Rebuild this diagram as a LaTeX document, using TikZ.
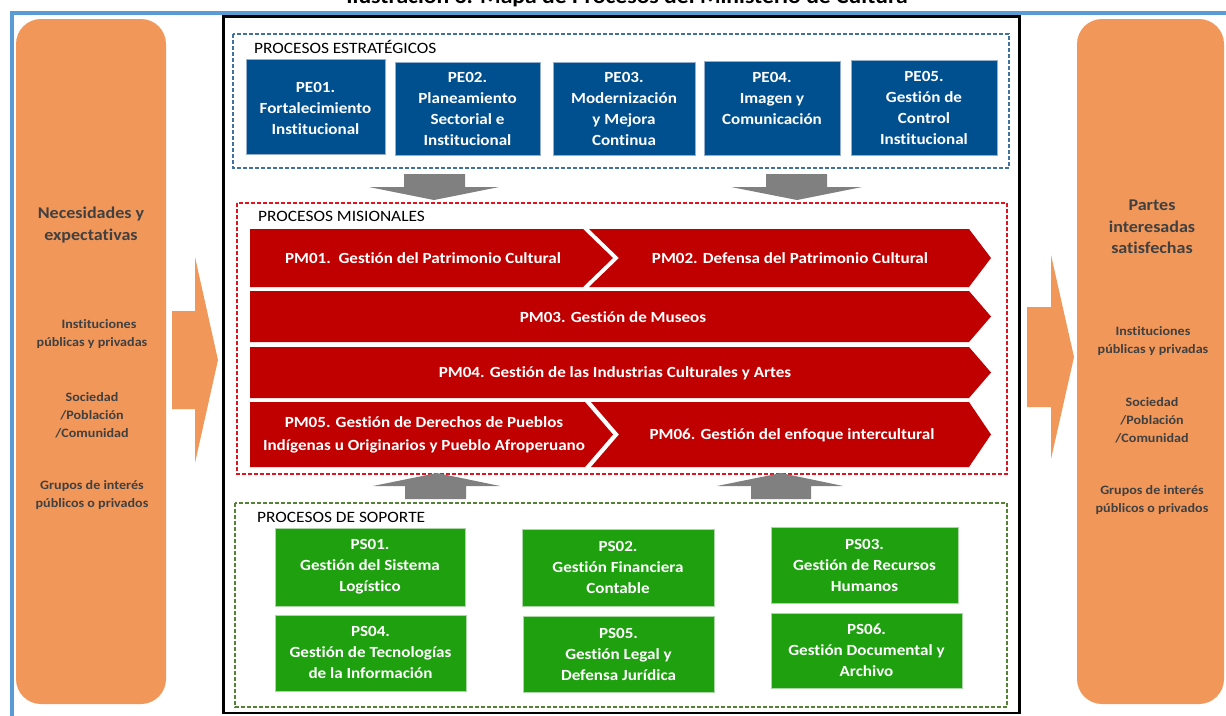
\documentclass[tikz,border=0pt]{standalone}
\usepackage{fontspec}
\setmainfont[FakeStretch=1.1, Ligatures=NoCommon]{Carlito}
\definecolor{frameblue}{RGB}{91,155,213}
\definecolor{orangep}{RGB}{241,151,90}
\definecolor{peblue}{RGB}{0,80,143}
\definecolor{pmred}{RGB}{192,0,0}
\definecolor{psgreen}{RGB}{30,160,15}
\definecolor{arrowgray}{RGB}{128,128,128}
\definecolor{dashblue}{RGB}{65,113,156}
\definecolor{dashred}{RGB}{224,20,30}
\definecolor{dashgreen}{RGB}{84,130,53}
\definecolor{paneltext}{RGB}{64,64,64}
\tikzset{
  boxtext/.style={font=\bfseries\fontsize{15.5}{21}\selectfont, text=white, align=center, inner sep=0pt},
  pmtext/.style={font=\bfseries\fontsize{15.5}{23}\selectfont, text=white, align=center, inner sep=0pt},
  pebox/.style={fill=peblue, draw={rgb,255:red,150;green,175;blue,205}, line width=0.8pt, inner sep=0pt},
  psbox/.style={fill=psgreen, draw={rgb,255:red,170;green,215;blue,165}, line width=0.8pt, inner sep=0pt},
  pmshape/.style={fill=pmred},
  sectlabel/.style={font=\fontsize{15.8}{18}\selectfont, anchor=west, inner sep=0pt},
  paneltxt/.style={text=paneltext, font=\bfseries\fontsize{12.8}{17.8}\selectfont, align=center, inner sep=0pt},
  panelhead/.style={text=paneltext, font=\bfseries\fontsize{16.4}{21.5}\selectfont, align=center, inner sep=0pt},
  dashframe/.style={line width=1.5pt, dash pattern=on 4pt off 2pt},
  grayarrow/.style={fill=arrowgray},
  orangepanel/.style={fill=orangep, rounded corners=25pt},
  orangearrow/.style={fill=orangep}
}
\begin{document}
\begin{tikzpicture}[x=1pt,y=-1pt]
\useasboundingbox (0,0) rectangle (1226,715);
% title (cut off at top, as in the reference)
\node[font=\bfseries\fontsize{21.5}{24}\selectfont, anchor=base, inner sep=0pt] (title) at (627,3) {Ilustración 3. Mapa de Procesos del Ministerio de Cultura};
% outer blue frame
\draw[frameblue, line width=4pt] (11.5,730) -- (11.5,12.5) -- (1240,12.5);
% orange side panels
\fill[orangepanel] (16,19) rectangle (166,704);
\fill[orangepanel] (1077,19) rectangle (1224,704);
% orange block arrows
\fill[orangearrow] (172,311) -- (195,311) -- (195,257) -- (218,360) -- (195,463) -- (195,409) -- (172,409) -- cycle;
\fill[orangearrow] (1027,307) -- (1051,307) -- (1051,255) -- (1074,357) -- (1051,459) -- (1051,407) -- (1027,407) -- cycle;
% panel texts left
\node[panelhead] (needs) at (91,225) {Necesidades y\\expectativas};
\node[paneltxt] (instL) at (92,334) {\hspace*{14pt}Instituciones\\públicas y privadas};
\node[paneltxt] (socL) at (92,415) {Sociedad\\/Población\\/Comunidad};
\node[paneltxt] (grpL) at (92,495) {Grupos de interés\\públicos o privados};
% panel texts right
\node[panelhead] (partes) at (1152,227) {Partes\\interesadas\\satisfechas};
\node[paneltxt] (instR) at (1153,341) {Instituciones\\públicas y privadas};
\node[paneltxt] (socR) at (1152,420) {Sociedad\\/Población\\/Comunidad};
\node[paneltxt] (grpR) at (1152,500) {Grupos de interés\\públicos o privados};
% black central frame
\draw[black, line width=2.5pt] (223.5,16.5) rectangle (1019.5,713);
% dashed section frames
\draw[dashframe, dashblue] (233,34) rectangle (1009,168);
\draw[dashframe, dashred] (237,203) rectangle (1007,474);
\draw[dashframe, dashgreen] (235,503) rectangle (1007,707);
% section labels
\node[sectlabel] (lblE) at (254,47) {PROCESOS ESTRATÉGICOS};
\node[sectlabel] (lblM) at (258,216) {PROCESOS MISIONALES};
\node[sectlabel] (lblS) at (257,517) {PROCESOS DE SOPORTE};
% strategic boxes
\node[pebox, minimum width=139pt, minimum height=95pt] (pe1) at (315.5,106.5) {};
\node[boxtext] (pe1t) at (315.5,108) {PE01.\\Fortalecimiento\\Institucional};
\node[pebox, minimum width=145pt, minimum height=93pt] (pe2) at (467.5,108.5) {};
\node[boxtext] (pe2t) at (467.5,108.5) {PE02.\\Planeamiento\\Sectorial e\\Institucional};
\node[pebox, minimum width=142pt, minimum height=93pt] (pe3) at (624,108.5) {};
\node[boxtext] (pe3t) at (624,108.5) {PE03.\\Modernización\\y Mejora\\Continua};
\node[pebox, minimum width=136pt, minimum height=94pt] (pe4) at (772,108) {};
\node[boxtext] (pe4t) at (772,98) {PE04.\\Imagen y\\Comunicación};
\node[pebox, minimum width=146pt, minimum height=95pt] (pe5) at (924,107.5) {};
\node[boxtext] (pe5t) at (924,108) {PE05.\\Gestión de\\Control\\Institucional};
% down arrows
\fill[grayarrow] (404,174) -- (465,174) -- (465,187) -- (499,187) -- (434,200) -- (369,187) -- (404,187) -- cycle;
\fill[grayarrow] (766,174) -- (827,174) -- (827,187) -- (862,187) -- (797,200) -- (731,187) -- (766,187) -- cycle;
% missional chevrons
\fill[pmshape] (250,229) -- (583,229) -- (613,258) -- (583,287) -- (250,287) -- cycle;
\fill[pmshape] (589,229) -- (969,229) -- (991,258) -- (969,287) -- (589,287) -- (619,258) -- cycle;
\fill[pmshape] (250,291) -- (969,291) -- (991,316.5) -- (969,342) -- (250,342) -- cycle;
\fill[pmshape] (250,347) -- (969,347) -- (991,372.5) -- (969,398) -- (250,398) -- cycle;
\fill[pmshape] (250,402) -- (585,402) -- (613,434.5) -- (585,467) -- (250,467) -- cycle;
\fill[pmshape] (591,402) -- (969,402) -- (991,434.5) -- (969,467) -- (591,467) -- (619,434.5) -- cycle;
\node[pmtext] (pm1t) at (423,258) {PM01.~~Gestión del Patrimonio Cultural};
\node[pmtext] (pm2t) at (790,258) {PM02. Defensa del Patrimonio Cultural};
\node[pmtext] (pm3t) at (613,317) {PM03. Gestión de Museos};
\node[pmtext] (pm4t) at (615,373) {PM04. Gestión de las Industrias Culturales y Artes};
\node[pmtext] (pm5t) at (424,435) {PM05. Gestión de Derechos de Pueblos\\Indígenas u Originarios y Pueblo Afroperuano};
\node[pmtext] (pm6t) at (792,435) {PM06. Gestión del enfoque intercultural};
% up arrows
\fill[grayarrow] (405,499) -- (466,499) -- (466,486) -- (500,486) -- (437,473) -- (373,486) -- (405,486) -- cycle;
\fill[grayarrow] (751,499) -- (811,499) -- (811,486) -- (843,486) -- (781,473) -- (717,486) -- (751,486) -- cycle;
% support boxes
\node[psbox, minimum width=190pt, minimum height=78pt] (ps1) at (370,567) {};
\node[boxtext] (ps1t) at (370,567) {PS01.\\Gestión del Sistema\\Logístico};
\node[psbox, minimum width=192pt, minimum height=77pt] (ps2) at (618,567.5) {};
\node[boxtext] (ps2t) at (618,567.5) {PS02.\\Gestión Financiera\\Contable};
\node[psbox, minimum width=187pt, minimum height=76pt] (ps3) at (864.5,565) {};
\node[boxtext] (ps3t) at (864.5,565.5) {PS03.\\Gestión de Recursos\\Humanos};
\node[psbox, minimum width=191pt, minimum height=76pt] (ps4) at (370.5,653) {};
\node[boxtext] (ps4t) at (370.5,652.5) {PS04.\\Gestión de Tecnologías\\de la Información};
\node[psbox, minimum width=191pt, minimum height=76pt] (ps5) at (618.5,654) {};
\node[boxtext] (ps5t) at (618.5,654) {PS05.\\Gestión Legal y\\Defensa Jurídica};
\node[psbox, minimum width=191pt, minimum height=75pt] (ps6) at (866.5,650.5) {};
\node[boxtext] (ps6t) at (866.5,650.5) {PS06.\\Gestión Documental y\\Archivo};
\end{tikzpicture}
\end{document}
